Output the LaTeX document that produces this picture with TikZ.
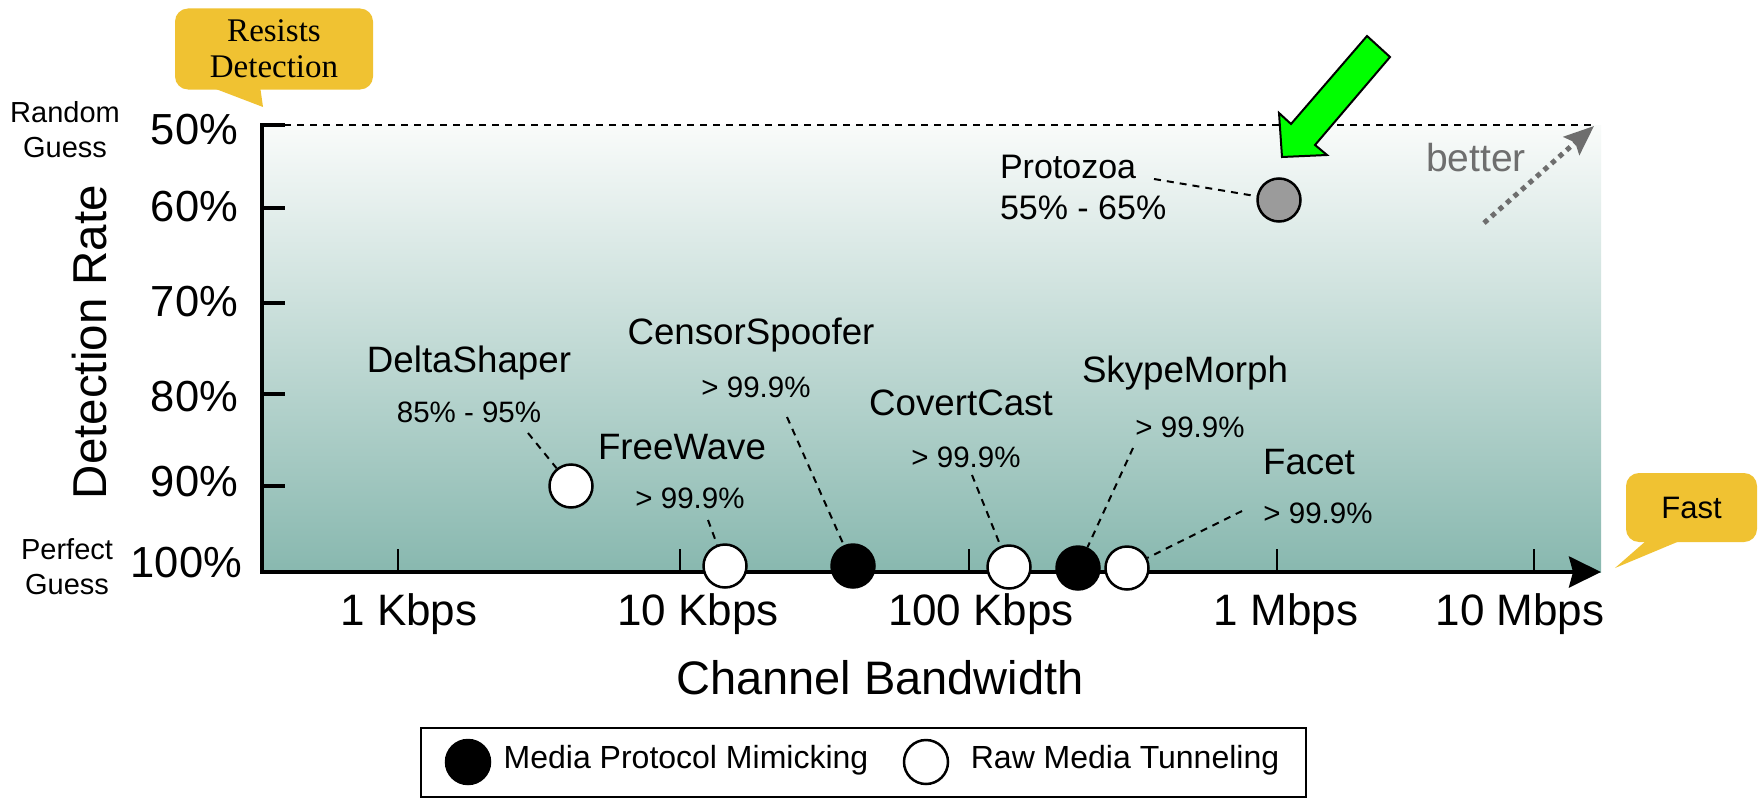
\documentclass[tikz,border=0pt]{standalone}
\usepackage{fontspec}
\newfontfamily\hel{Liberation Sans}
\newfontfamily\tms{Liberation Serif}
\usetikzlibrary{arrows.meta}
\definecolor{callout}{HTML}{F0C232}
\definecolor{bgtop}{HTML}{F9FBFA}
\definecolor{bgbot}{HTML}{88B8AF}
\definecolor{betterc}{HTML}{6E6E6E}
\definecolor{protog}{HTML}{9B9B9B}
\definecolor{arrowgreen}{HTML}{00FF00}
\newcommand\hf[1]{\hel\fontsize{#1}{#1}\selectfont}
\tikzset{
  txt/.style={inner sep=0pt, outer sep=0pt},
  namelbl/.style={txt, font=\hf{36.7}},
  vallbl/.style={txt, font=\hf{29.5}},
  protolbl/.style={txt, font=\hf{34}, anchor=west},
  ylbl/.style={txt, font=\hf{43.5}, anchor=east},
  xlbl/.style={txt, font=\hf{44}},
  guesslbl/.style={txt, align=center, font={\hel\fontsize{29}{35}\selectfont}},
  datapt/.style={circle, draw=black, line width=2.5pt, minimum size=43pt, inner sep=0pt},
  conn/.style={line width=2pt, dash pattern=on 7pt off 6pt},
  axisline/.style={line width=4pt},
  xtick/.style={line width=2.5pt},
  calloutbox/.style={fill=callout, rounded corners=13pt, inner sep=0pt},
}
\begin{document}
\begin{tikzpicture}[x=1pt,y=-1pt]
\useasboundingbox (0,0) rectangle (1758,800);
\fill[white] (0,0) rectangle (1758,800);
% plot background
\shade[top color=bgtop, bottom color=bgbot] (262,125) rectangle (1601,572);
% random guess dashed line
\draw[conn] (284,125) -- (1593,125);
% axes
\draw[axisline, line join=miter, -{Stealth[length=32pt,width=31pt,inset=4pt]}] (285,125) -- (262,125) -- (262,572) -- (1601,572);
\foreach \yy in {208,303,394,486} \draw[axisline] (262,\yy) -- (285,\yy);
\foreach \xx in {398,680,969,1277,1534} \draw[xtick] (\xx,549) -- (\xx,572);
% y labels
\node[ylbl] (y50) at (238,130) {50\%};
\node[ylbl] (y60) at (238,207) {60\%};
\node[ylbl] (y70) at (238,302) {70\%};
\node[ylbl] (y80) at (238,397) {80\%};
\node[ylbl] (y90) at (238,482) {90\%};
\node[ylbl] (y100) at (242,563) {100\%};
\node[guesslbl] (rg) at (65,130) {Random\\Guess};
\node[guesslbl] (pg) at (67,567) {Perfect\\Guess};
\node[txt, font=\hf{47.5}, rotate=90] (ytitle) at (90,342) {Detection Rate};
% x labels
\node[xlbl] (x1k) at (409,614) {1 Kbps};
\node[xlbl] (x10k) at (698,614) {10 Kbps};
\node[xlbl] (x100k) at (981,614) {100 Kbps};
\node[xlbl] (x1m) at (1286,614) {1 Mbps};
\node[xlbl] (x10m) at (1520,614) {10 Mbps};
\node[txt, font=\hf{47}] (xtitle) at (880,678) {Channel Bandwidth};
% callouts
\node[calloutbox, minimum width=198pt, minimum height=81pt, align=center,
      font={\tms\fontsize{33}{36}\selectfont}] (resist) at (274,49) {Resists\\Detection};
\fill[callout] (208,86) -- (263,107) -- (260,86) -- cycle;
\node[calloutbox, minimum width=131pt, minimum height=69pt, font=\hf{31}] (fast) at (1691.5,507.5) {Fast};
\fill[callout] (1647,540) -- (1615,568) -- (1682,540) -- cycle;
% better arrow
\node[txt, font=\hf{39}, text=betterc] (better) at (1476,158) {better};
\coordinate (bs) at (1484,223);
\coordinate (be) at (1594,126);
\draw[betterc, line width=5pt, dash pattern=on 5pt off 5pt, -{Stealth[length=30pt,width=24pt,inset=5pt]}] (bs) -- (be);
% green arrow
\draw[line width=2pt, fill=arrowgreen, line join=miter] (1282,157) -- (1279,113) -- (1291,124) -- (1367,36) -- (1390,57) -- (1315,145) -- (1327,155) -- cycle;
% data points
\node[datapt, fill=white] (ds) at (571,486) {};
\node[datapt, fill=white] (fw) at (725,566) {};
\node[datapt, fill=black] (cs) at (853,566) {};
\node[datapt, fill=white] (cc) at (1009,567) {};
\node[datapt, fill=black] (sm) at (1078,568) {};
\node[datapt, fill=white] (fc) at (1127,568) {};
\node[datapt, fill=protog] (pz) at (1279,200) {};
% labels
\node[namelbl] (dsN) at (469,363) {DeltaShaper};
\node[vallbl] (dsV) at (469,412) {85\% - 95\%};
\coordinate (dsA) at (528,433);
\draw[conn] (dsA) -- (ds);
\node[namelbl] (fwN) at (682,447) {FreeWave};
\node[vallbl] (fwV) at (690,498) {> 99.9\%};
\coordinate (fwA) at (708,520);
\draw[conn] (fwA) -- (fw);
\node[namelbl] (csN) at (751,335) {CensorSpoofer};
\node[vallbl] (csV) at (756,387) {> 99.9\%};
\coordinate (csA) at (787,417);
\draw[conn] (csA) -- (cs);
\node[namelbl] (ccN) at (961,403) {CovertCast};
\node[vallbl] (ccV) at (966,457) {> 99.9\%};
\coordinate (ccA) at (972,475);
\draw[conn] (ccA) -- (cc);
\node[namelbl] (smN) at (1185,373) {SkypeMorph};
\node[vallbl] (smV) at (1190,427) {> 99.9\%};
\coordinate (smA) at (1133,448);
\draw[conn] (smA) -- (sm);
\node[namelbl] (fcN) at (1309,462) {Facet};
\node[vallbl] (fcV) at (1318,513) {> 99.9\%};
\coordinate (fcA) at (1242,511);
\draw[conn] (fcA) -- (fc);
\node[protolbl] (pzN) at (1000,167) {Protozoa};
\node[protolbl] (pzV) at (1000,208) {55\% - 65\%};
\coordinate (pzA) at (1154,179);
\draw[conn] (pzA) -- (pz);
% legend
\node[draw=black, line width=2.5pt, minimum width=885pt, minimum height=69pt, inner sep=0pt] (legend) at (863.5,762.5) {};
\node[datapt, fill=black, minimum size=44pt] (legB) at (468,762) {};
\node[txt, font=\hf{32}] (legBT) at (686,760) {Media Protocol Mimicking};
\node[datapt, fill=white, minimum size=44pt] (legW) at (926,762) {};
\node[txt, font=\hf{32}] (legWT) at (1125,760) {Raw Media Tunneling};
\end{tikzpicture}
\end{document}
